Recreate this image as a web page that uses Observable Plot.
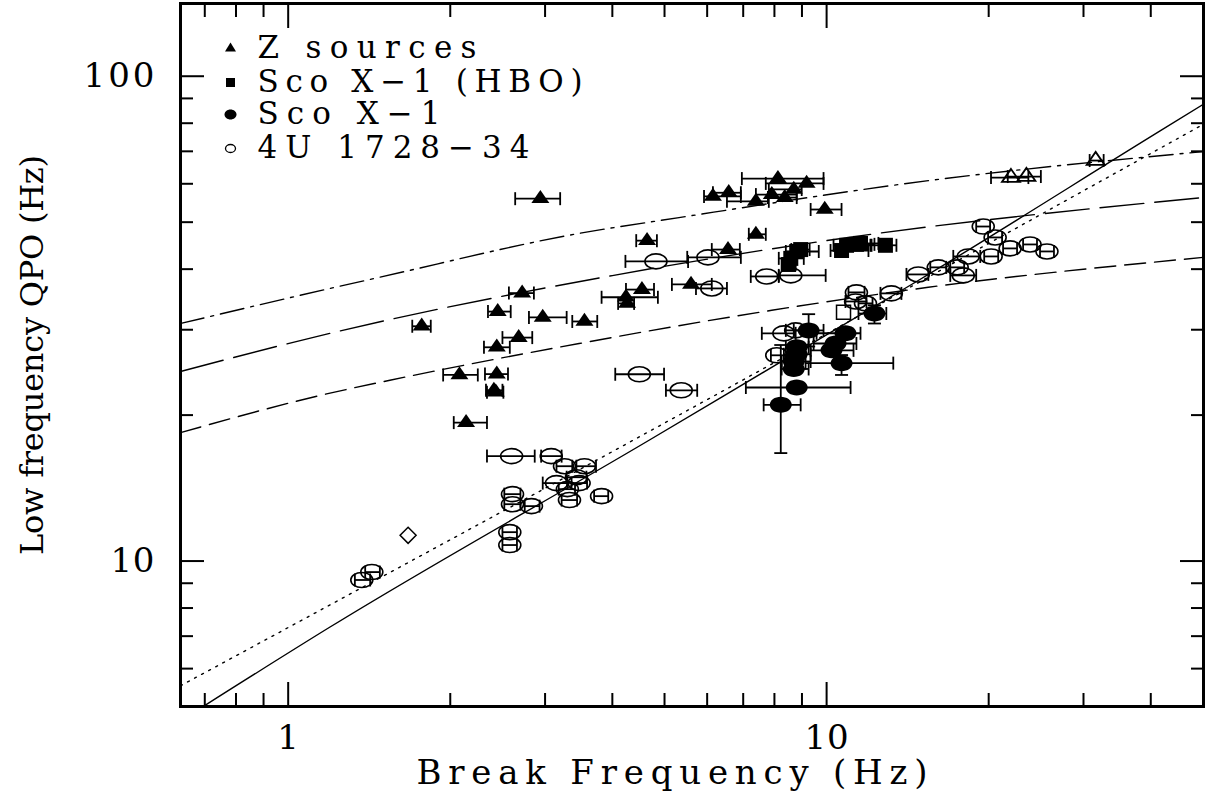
<!DOCTYPE html>
<html><head><meta charset="utf-8">
<script src="https://cdn.jsdelivr.net/npm/d3@7"></script>
<script src="https://cdn.jsdelivr.net/npm/@observablehq/plot@0.6"></script>
<style>html,body{margin:0;padding:0;background:#fff;}</style>
</head><body><div id="chart"></div>
<script>
// ---- data: [break frequency (Hz), QPO (Hz), xErrLow, xErrHigh]
const zSources = [
  [2.94,55.9,2.64,3.20],[1.77,30.5,1.70,1.84],[2.08,24.2,1.94,2.25],[2.45,32.7,2.35,2.59],
  [2.72,35.7,2.57,2.86],[2.68,28.9,2.50,2.84],[2.44,27.6,2.31,2.58],[2.44,24.3,2.32,2.56],
  [2.41,22.5,2.33,2.50],[2.43,22.3,2.34,2.51],[2.14,19.3,2.03,2.34],[2.97,31.8,2.80,3.29],
  [3.55,31.2,3.37,3.75],[4.64,45.8,4.43,4.84],[4.24,35.0,3.82,4.86],[4.26,34.0,4.10,4.39],
  [4.54,36.3,4.24,4.78],[5.60,37.2,5.16,6.12],[6.56,43.9,6.12,6.90],[7.39,47.2,7.17,7.71],
  [6.15,56.5,5.92,6.93],[6.58,57.5,6.15,6.93],[7.39,55.2,6.53,7.81],[7.91,57.0,7.39,8.80],
  [8.12,61.5,6.96,9.87],[8.36,56.2,7.78,8.80],[8.69,58.4,7.81,8.99],[9.18,60.1,7.71,9.87],
  [9.92,53.1,9.34,10.66]
];
const openTriangles = [[22.0,61.8,20.2,23.7],[23.5,62.1,21.7,25.0],[31.6,67.0,30.8,32.7]];
const scoHBO = [
  [8.50,40.9,8.25,8.76],[8.58,42.1,8.15,9.07],[8.80,43.5,8.40,9.67],[8.95,43.9,8.60,9.30],
  [10.66,43.7,10.17,11.96],[10.89,44.8,10.30,12.06],[11.36,45.0,10.80,12.27],
  [11.56,45.2,10.98,12.48],[12.86,44.8,12.12,13.48]
];
// [f, q, xlo, xhi, ylo, yhi]
const scoX1 = [
  [9.26,29.9,8.69,9.87,27.7,32.3],[12.27,32.4,11.46,12.91,30.9,33.7],[10.84,29.5,9.58,11.56,null,null],
  [10.39,28.1,9.46,11.36,null,null],[10.21,27.2,9.34,11.22,null,null],[8.80,27.6,8.40,9.26,null,null],
  [8.80,26.7,8.33,9.34,null,null],[8.69,25.8,8.25,9.34,null,null],[8.69,24.9,8.25,9.26,null,null],
  [10.66,25.6,9.14,13.30,24.2,26.6],[8.80,22.8,7.08,11.08,null,null],[8.22,21.0,7.64,8.95,16.7,27.9]
];
const src4U = [
  [1.37,9.14,1.33,1.42],[1.43,9.49,1.39,1.48],[2.58,11.47,2.50,2.66],[2.58,10.79,2.50,2.66],
  [2.61,13.74,2.52,2.70],[2.61,13.10,2.52,2.70],[2.83,12.98,2.75,2.93],[2.60,16.46,2.34,2.87],
  [3.08,16.46,2.95,3.22],[3.26,15.69,3.15,3.37],[3.55,15.69,3.43,3.73],[3.15,14.48,2.97,3.30],
  [3.43,14.89,3.29,3.58],[3.47,14.48,3.36,3.59],[3.30,14.07,3.18,3.41],[3.33,13.36,3.22,3.44],
  [3.82,13.61,3.70,3.93],[4.49,24.28,4.05,4.99],[5.37,22.50,5.03,5.75],[4.82,41.50,4.23,5.53],
  [6.02,42.30,5.51,6.93],[6.12,36.50,5.72,6.53],[7.74,38.64,7.23,8.15],[8.58,38.83,8.15,9.96],
  [8.33,29.49,7.58,8.76],[8.76,29.91,8.40,9.07],[8.08,26.57,7.88,8.61],[11.32,34.31,10.84,11.86],
  [11.36,35.82,10.98,11.76],[11.81,34.00,11.46,12.17],[13.19,35.65,12.59,13.77],[14.80,39.01,14.07,15.45],
  [16.12,40.34,15.58,16.68],[17.48,40.34,16.97,18.01],[17.94,38.83,16.97,18.96],[18.32,42.49,17.19,19.29],
  [20.21,42.49,19.62,20.83],[19.54,48.98,18.96,20.12],[20.56,46.50,19.95,21.18],[21.92,44.14,21.27,22.58],
  [23.87,44.98,23.17,24.59],[25.66,43.51,24.91,26.44]
];
const openSquare = [[10.75,32.6]];
const diamondPts = [[1.67,11.3]];
// model curves [f, q]
const dashDotCurve = [[0.631,30.9],[1.196,36.5],[1.48,38.5],[3.47,47.4],[5.32,51.1],[15.45,60.9],[50,69.9]];
const longDashCurve = [[0.631,24.6],[1.196,29.5],[4.0,38.8],[10.98,46.5],[50,56.2]];
const shortDashCurve = [[0.631,18.4],[1.196,22.2],[1.545,23.6],[3.47,28.1],[7.91,32.9],[15.45,36.7],[50,42.3]];
const solidCurve = [[0.693,5.0],[1.196,7.31],[4.68,17.75],[8.15,25.6],[14.8,37.9],[41.7,77.2],[50,87.4]];
const dottedCurve = [[0.631,5.53],[1.196,8.12],[4.68,18.5],[9.38,28.3],[20.8,46.3],[50,79.5]];
// axes
const xMajor = [1, 10];
const xMinor = [0.7,0.8,0.9,2,3,4,5,6,7,8,9,20,30,40];
const yMajor = [10, 100];
const yMinor = [6,7,8,9,20,30,40,50,60,70,80,90];
const xTickLabels = ["1","10"];
const yTickLabels = ["10","100"];
const legendLabels = ["Z sources","Sco X\u22121 (HBO)","Sco X\u22121","4U 1728\u221234"];

// ---- symbols
const K = 0.5523;
const ellipse = (rx, ry) => ({draw(c){c.moveTo(rx,0);c.bezierCurveTo(rx,ry*K,rx*K,ry,0,ry);c.bezierCurveTo(-rx*K,ry,-rx,ry*K,-rx,0);c.bezierCurveTo(-rx,-ry*K,-rx*K,-ry,0,-ry);c.bezierCurveTo(rx*K,-ry,rx,-ry*K,rx,0);c.closePath();}});
const tri = (w, h) => ({draw(c){c.moveTo(0,-2*h/3);c.lineTo(w/2,h/3);c.lineTo(-w/2,h/3);c.closePath();}});
const sq = (w) => ({draw(c){c.rect(-w/2,-w/2,w,w);}});
const diam = (w) => ({draw(c){c.moveTo(0,-w/2);c.lineTo(w/2,0);c.lineTo(0,w/2);c.lineTo(-w/2,0);c.closePath();}});
const capV = (h) => ({draw(c){c.moveTo(0,-h);c.lineTo(0,h);}});
const capH = (w) => ({draw(c){c.moveTo(-w,0);c.lineTo(w,0);}});

const F = "DejaVu Serif, Liberation Serif, serif";
const errX = (data, sw=1.8) => [
  Plot.link(data, {x1: d=>d[2], x2: d=>d[3], y1: d=>d[1], y2: d=>d[1], stroke:"black", strokeWidth: sw}),
  Plot.dot(data, {x: d=>d[2], y: d=>d[1], symbol: capV(6.5), stroke:"black", fill:"none", strokeWidth: sw}),
  Plot.dot(data, {x: d=>d[3], y: d=>d[1], symbol: capV(6.5), stroke:"black", fill:"none", strokeWidth: sw})
];
const withY = scoX1.filter(d => d[4] != null);
const errY = [
  Plot.link(withY, {x1: d=>d[0], x2: d=>d[0], y1: d=>d[4], y2: d=>d[5], stroke:"black", strokeWidth: 1.8}),
  Plot.dot(withY, {x: d=>d[0], y: d=>d[4], symbol: capH(6.5), stroke:"black", fill:"none", strokeWidth: 1.8}),
  Plot.dot(withY, {x: d=>d[0], y: d=>d[5], symbol: capH(6.5), stroke:"black", fill:"none", strokeWidth: 1.8})
];
const curve = (data, dash) => Plot.line(data, {x: d=>d[0], y: d=>d[1], stroke:"black", strokeWidth: 1.4, strokeDasharray: dash, curve: "monotone-x", clip: true});
const legendSyms = [tri(11,9), sq(9), ellipse(6,5), ellipse(5,4)];
const legendFill = ["black","black","black","none"];
const legendDy = [45, 79, 111, 145];

const svg = Plot.plot({
  width: 1207, height: 795,
  marginLeft: 180, marginRight: 4, marginTop: 3, marginBottom: 89,
  style: {fontFamily: F, fontSize: "32px", color: "black", background: "white"},
  x: {type: "log", domain: [Math.pow(10,-0.2), Math.pow(10,1.7)]},
  y: {type: "log", domain: [Math.pow(10,0.7), Math.pow(10,2.15)]},
  marks: [
    curve(dashDotCurve, "24,7,3,7"),
    curve(longDashCurve, "44,11"),
    curve(shortDashCurve, "21,9"),
    curve(solidCurve, null),
    curve(dottedCurve, "2,6"),
    ...errX(zSources), ...errX(openTriangles), ...errX(scoHBO), ...errX(scoX1), ...errX(src4U), ...errY,
    Plot.dot(src4U, {x: d=>d[0], y: d=>d[1], symbol: ellipse(11,7.5), fill:"none", stroke:"black", strokeWidth: 1.6}),
    Plot.dot(zSources, {x: d=>d[0], y: d=>d[1], symbol: tri(18,13), fill:"black", stroke:"none"}),
    Plot.dot(openTriangles, {x: d=>d[0], y: d=>d[1], symbol: tri(18,13), fill:"none", stroke:"black", strokeWidth: 1.8}),
    Plot.dot(scoHBO, {x: d=>d[0], y: d=>d[1], symbol: sq(15), fill:"black", stroke:"none"}),
    Plot.dot(scoX1, {x: d=>d[0], y: d=>d[1], symbol: ellipse(11,8), fill:"black", stroke:"none"}),
    Plot.dot(openSquare, {x: d=>d[0], y: d=>d[1], symbol: sq(14), fill:"none", stroke:"black", strokeWidth: 1.5}),
    Plot.dot(diamondPts, {x: d=>d[0], y: d=>d[1], symbol: diam(16), fill:"none", stroke:"black", strokeWidth: 1.5}),
    // axes ticks (inward, four sides)
    Plot.axisX(xMajor, {anchor: "bottom", tickSize: -24, strokeWidth: 2, fill: "none", label: null}),
    Plot.axisX(xMinor, {anchor: "bottom", tickSize: -13, strokeWidth: 2, fill: "none", label: null}),
    Plot.axisX(xMajor, {anchor: "top", tickSize: -24, strokeWidth: 2, fill: "none", label: null}),
    Plot.axisX(xMinor, {anchor: "top", tickSize: -13, strokeWidth: 2, fill: "none", label: null}),
    Plot.axisY(yMajor, {anchor: "left", tickSize: -24, strokeWidth: 2, fill: "none", label: null}),
    Plot.axisY(yMinor, {anchor: "left", tickSize: -13, strokeWidth: 2, fill: "none", label: null}),
    Plot.axisY(yMajor, {anchor: "right", tickSize: -24, strokeWidth: 2, fill: "none", label: null}),
    Plot.axisY(yMinor, {anchor: "right", tickSize: -13, strokeWidth: 2, fill: "none", label: null}),
    Plot.frame({stroke: "black", strokeWidth: 3}),
    // tick labels
    Plot.text(xMajor, {x: d=>d, frameAnchor: "bottom", dy: 32, lineAnchor: "middle", textAnchor: "middle", text: (d,i)=>xTickLabels[i], fontFamily: F, fontSize: 34}),
    Plot.text(yMajor, {y: d=>d, frameAnchor: "left", dx: -26, lineAnchor: "middle", textAnchor: "end", text: (d,i)=>yTickLabels[i], fontFamily: F, fontSize: 34}),
    // axis labels
    Plot.text(["Break Frequency (Hz)"], {frameAnchor: "bottom", dx: -20, dy: 67, lineAnchor: "middle", textAnchor: "middle", fontFamily: F, fontSize: 34}),
    Plot.text(["Low frequency QPO (Hz)"], {frameAnchor: "left", dx: -148, rotate: -90, lineAnchor: "middle", textAnchor: "middle", fontFamily: F, fontSize: 32}),
    // legend
    ...legendLabels.map((lab, i) => Plot.dot([lab], {frameAnchor: "top-left", dx: 50, dy: legendDy[i], symbol: legendSyms[i], fill: legendFill[i], stroke: i===3 ? "black" : "none", strokeWidth: 1.3})),
    ...legendLabels.map((lab, i) => Plot.text([lab], {frameAnchor: "top-left", dx: 77, dy: legendDy[i], text: d=>d, textAnchor: "start", lineAnchor: "middle", fontFamily: F, fontSize: 31}))
  ]
});

// Hershey-like letter spacing: stretch each text to the width seen in the reference
const lengths = {"100": 71, "10": 44, "Break Frequency (Hz)": 511, "Low frequency QPO (Hz)": 400,
  "Z sources": 219, "Sco X\u22121 (HBO)": 325, "Sco X\u22121": 183, "4U 1728\u221234": 272};
d3.select(svg).selectAll("text").each(function() {
  const t = this.textContent;
  if (lengths[t]) this.setAttribute("textLength", lengths[t]);
});
document.getElementById("chart").appendChild(svg);
</script>
</body></html>
